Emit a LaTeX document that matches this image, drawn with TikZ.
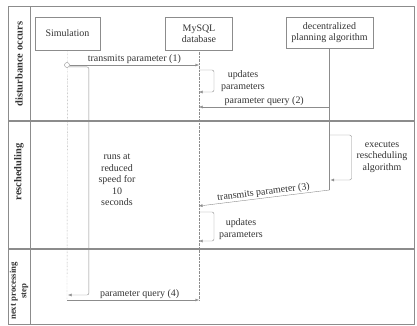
\documentclass[tikz,border=0pt]{standalone}
\usepackage{fontspec}
\setmainfont{Liberation Serif}
\usetikzlibrary{positioning, arrows.meta}
\definecolor{line-gray}{rgb}{0.55, 0.55, 0.55}
\definecolor{text-gray}{rgb}{0.2, 0.2, 0.2}

\begin{document}
\begin{tikzpicture}[x=1bp, y=-1bp]
				\tikzset{actor/.style={rectangle, draw=line-gray, align=center, text=text-gray, font=\fontsize{10}{11}\selectfont, inner sep=1bp}}
				\tikzset{msg/.style={-{Latex[length=3.5bp, width=3bp]}, draw=line-gray, thin}}
				\tikzset{lifeline/.style={line-gray, densely dotted}}
				\tikzset{lbl/.style={text=text-gray, font=\fontsize{10}{11.5}\selectfont, inner sep=1bp, align=center}}
				\tikzset{lane/.style={rotate=90, text=text-gray, font=\bfseries\fontsize{10.5}{11}\selectfont, align=center}}
				
				\useasboundingbox (0,0) rectangle (417,326);
				% swimlanes
				\draw[line-gray] (8,6) rectangle (414,324);
				\draw[line-gray] (30,6) -- (30,324);
				\draw[line-gray, line width=1.5bp] (8,121) -- (414,121);
				\draw[line-gray, line width=1.5bp] (8,249) -- (414,249);
				\node[lane] (lane dist) at (19,64) {disturbance occurs};
				\node[lane] (lane resch) at (19,172) {rescheduling};
				\node[lane, font=\bfseries\fontsize{8.8}{10.5}\selectfont] (lane next) at (19,291) {next processing\\step};
				
				% actors
				\node[actor, minimum width=65bp, minimum height=33bp] (sim) at (67.5,33.5) {Simulation};
				\node[actor, minimum width=67bp, minimum height=33bp] (db) at (199,33.5) {MySQL\\database};
				\node[actor, minimum width=87bp, minimum height=31bp] (dpa) at (329.5,32.5) {decentralized\\planning algorithm};
				
				\coordinate (sim end) at (67,300);
				\coordinate (db end) at (199,300);
				\coordinate (dpa end) at (329.5,190);
				\draw[lifeline] (sim.south) -- (sim end);
				\draw[lifeline] (db.south) -- (db end);
				\draw[line-gray, thin] (dpa.south) -- (dpa end);
				
				% disturbance occurs
				\node[circle, draw=line-gray, fill=white, inner sep=0pt, minimum size=5bp] (start) at (67,65) {};
				\coordinate (db msg1) at (199,65);
				\draw[msg] (start) -- node[lbl, above] {transmits parameter (1)} (db msg1);
				\coordinate (act end) at (68,295);
				\draw[msg, rounded corners=2bp] (start.south east) -- ++(20,0) |- (act end);
				\node[lbl] (runs) at (117,180) {runs at\\reduced\\speed for\\10\\seconds};
				
				\coordinate (upd1 a) at (199,70);
				\coordinate (upd1 b) at (199,92);
				\draw[msg, rounded corners=2bp] (upd1 a) -- ++(15,0) |- (upd1 b);
				\node[lbl] (upd1) at (243,81) {updates\\parameters};
				
				\coordinate (dpa msg2) at (329.5,107);
				\coordinate (db msg2) at (199,107);
				\draw[msg] (dpa msg2) -- node[lbl, above] {parameter query (2)} (db msg2);
				
				% rescheduling
				\coordinate (exec a) at (329.5,135);
				\coordinate (exec b) at (330.5,180);
				\draw[msg, rounded corners=2bp] (exec a) -- ++(22,0) |- (exec b);
				\node[lbl] (exec) at (382,157) {executes\\rescheduling\\algorithm};
				
				\coordinate (db msg3) at (199,206);
				\draw[msg] (dpa end) -- node[lbl, above, sloped] {transmits parameter (3)} (db msg3);
				
				\coordinate (upd2 a) at (199,212);
				\coordinate (upd2 b) at (199,241);
				\draw[msg, rounded corners=2bp] (upd2 a) -- ++(15,0) |- (upd2 b);
				\node[lbl] (upd2) at (241,229) {updates\\parameters};
				
				% next processing step
				\draw[msg] (sim end) -- node[lbl, above, pos=0.55] {parameter query (4)} (db end);
			\end{tikzpicture}
\end{document}
